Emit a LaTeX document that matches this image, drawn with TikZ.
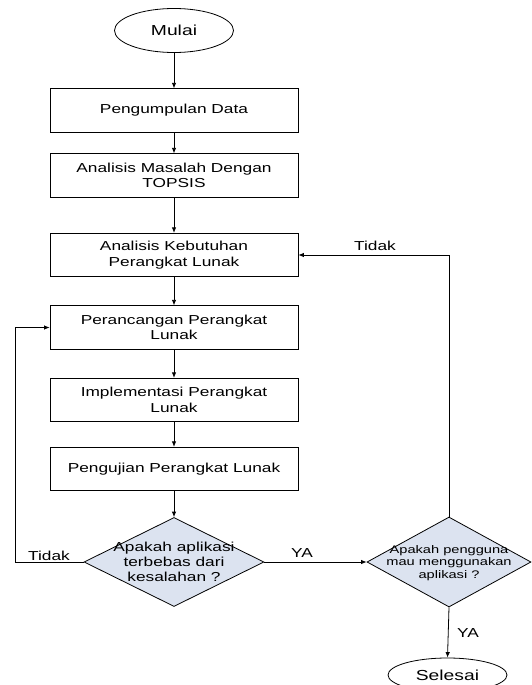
\documentclass[tikz,border=0pt]{standalone}
\usepackage{fontspec}
\setmainfont{Liberation Sans}[FakeStretch=1.33]
\usetikzlibrary{shapes.geometric,arrows.meta}
\definecolor{dfill}{HTML}{DCE3F0}
\tikzset{
  stepbox/.style={draw=black, line width=0.8pt, rectangle, minimum width=248pt, minimum height=43.5pt, inner sep=0pt, align=center, font=\fontsize{13}{15.5}\selectfont},
  term/.style={draw=black, line width=0.8pt, ellipse, minimum width=119pt, minimum height=44pt, inner sep=0pt, font=\fontsize{14.5}{16}\selectfont},
  decide/.style={draw=black, line width=0.8pt, diamond, fill=dfill, inner sep=0pt},
  dtext/.style={align=center, inner sep=0pt},
  lbl/.style={inner sep=0pt, font=\fontsize{13}{15}\selectfont},
  arr/.style={draw=black, line width=0.8pt, -{Latex[length=5.5pt,width=4.5pt]}}
}
\begin{document}
\begin{tikzpicture}[x=1pt,y=-1pt]
\useasboundingbox (0,0) rectangle (531,685);
\node[term] (mulai) at (174,30.5) {Mulai};
\node[stepbox] (b1) at (174,110.5) {Pengumpulan Data};
\node[stepbox] (b2) at (174,175.5) {Analisis Masalah Dengan\\TOPSIS};
\node[stepbox] (b3) at (174,255) {Analisis Kebutuhan\\Perangkat Lunak};
\node[stepbox] (b4) at (174,327.5) {Perancangan Perangkat\\Lunak};
\node[stepbox] (b5) at (174,400) {Implementasi Perangkat\\Lunak};
\node[stepbox] (b6) at (174,469) {Pengujian Perangkat Lunak};
\node[decide, minimum width=180pt, minimum height=89pt] (d1) at (174,562) {};
\node[dtext, font=\fontsize{13}{15}\selectfont] (d1t) at (174,562) {Apakah aplikasi\\terbebas dari\\kesalahan ?};
\node[decide, minimum width=164pt, minimum height=90pt] (d2) at (449,562) {};
\node[dtext, font=\fontsize{11}{12.2}\selectfont] (d2t) at (449,563) {Apakah pengguna\\mau menggunakan\\aplikasi ?};
\node[term, minimum height=34pt] (sel) at (447.5,675) {Selesai};
\coordinate (lc) at (15.5,562);
\draw[arr] (mulai) -- (b1);
\draw[arr] (b1) -- (b2);
\draw[arr] (b2) -- (b3);
\draw[arr] (b3) -- (b4);
\draw[arr] (b4) -- (b5);
\draw[arr] (b5) -- (b6);
\draw[arr] (b6) -- (d1.north);
\draw[arr] (d1.east) -- (d2.west);
\draw[arr] (d1.west) -- (lc) |- (b4.west);
\draw[arr] (d2.north) |- (b3.east);
\draw[arr] (d2.south) -- (sel.north);
\node[lbl] (tk1) at (375,246) {Tidak};
\node[lbl] (tk2) at (49,556) {Tidak};
\node[lbl] (ya1) at (302,553.5) {YA};
\node[lbl] (ya2) at (468,633) {YA};
\end{tikzpicture}
\end{document}
